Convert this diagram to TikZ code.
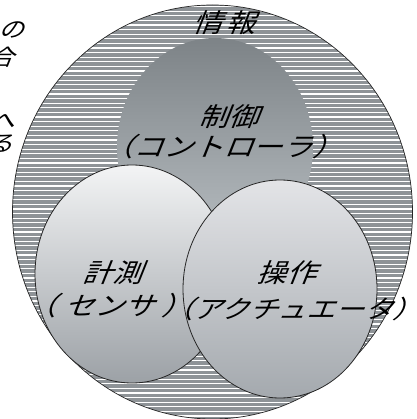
\documentclass[tikz,border=0pt]{standalone}
\usepackage{fontspec}
\newfontfamily\jp[FakeSlant=0.4,FakeStretch=1.15]{Noto Sans CJK JP}
\definecolor{stripegray}{HTML}{8E9397}
\definecolor{ctltop}{HTML}{7D8387}
\definecolor{ctlbot}{HTML}{BAC0C4}
\definecolor{sentop}{HTML}{F3F4F5}
\definecolor{senbot}{HTML}{9CA1A6}
\definecolor{acttop}{HTML}{E3E4E7}
\definecolor{actbot}{HTML}{A4A9AE}
\newcommand{\lp}{\hspace{-14pt}（}
\newcommand{\rp}{）\hspace{-14pt}}
\tikzset{
  lbl/.style={font=\jp\fontsize{26}{30}\selectfont, text=black, inner sep=0pt, align=center},
  frag/.style={font=\jp\fontsize{22}{24}\selectfont, text=black, inner sep=0pt, anchor=east},
  outline/.style={draw=black!85, line width=0.8pt}
}
\begin{document}
\begin{tikzpicture}[x=1pt,y=-1pt]
\useasboundingbox (0,0) rectangle (416,419);
\fill[white] (0,0) rectangle (416,419);
% big circle with stripes
\fill[stripegray] (212.5,212) ellipse [x radius=200, y radius=207];
\begin{scope}
  \clip (212.5,212) ellipse [x radius=200, y radius=207];
  \foreach \k in {0,...,92} {
    \draw[white, line width=1.1pt] (0,{2+4.6*\k}) -- (416,{2+4.6*\k});
  }
\end{scope}
\draw[outline, line width=0.7pt] (212.5,212) ellipse [x radius=200, y radius=207];
% control ellipse (no outline)
\shade[top color=ctltop, bottom color=ctlbot] (215,147) ellipse [x radius=98, y radius=109];
% sensor ellipse
\shade[top color=sentop, bottom color=senbot] (132,274) ellipse [x radius=97, y radius=109];
\draw[outline] (132,274) ellipse [x radius=97, y radius=109];
% actuator ellipse
\shade[top color=acttop, bottom color=actbot] (280,289) ellipse [x radius=97, y radius=109];
\draw[outline] (280,289) ellipse [x radius=97, y radius=109];
% labels
\node[lbl] (info) at (224,23) {情\hspace{3pt}報};
\node[lbl] (ctl) at (228,117) {制御};
\node[lbl] (ctlsub) at (223,147) {\lp コントローラ\rp};
\node[lbl] (sen) at (112,273) {計測};
\node[lbl] (sensub) at (109,306) {\lp\hspace{8pt}センサ\hspace{7pt}\rp};
\node[lbl, font=\jp\fontsize{25}{30}\selectfont] (actsub) at (293,309) {\lp アクチュエータ\rp};
\node[lbl] (act) at (286,273) {操作};
% clipped fragments at left edge
\node[frag] (f1) at (24,30) {の};
\node[frag] (f2) at (14,57) {合};
\node[frag] (f3) at (15,121) {へ};
\node[frag] (f4) at (13,144) {る};
\end{tikzpicture}
\end{document}
